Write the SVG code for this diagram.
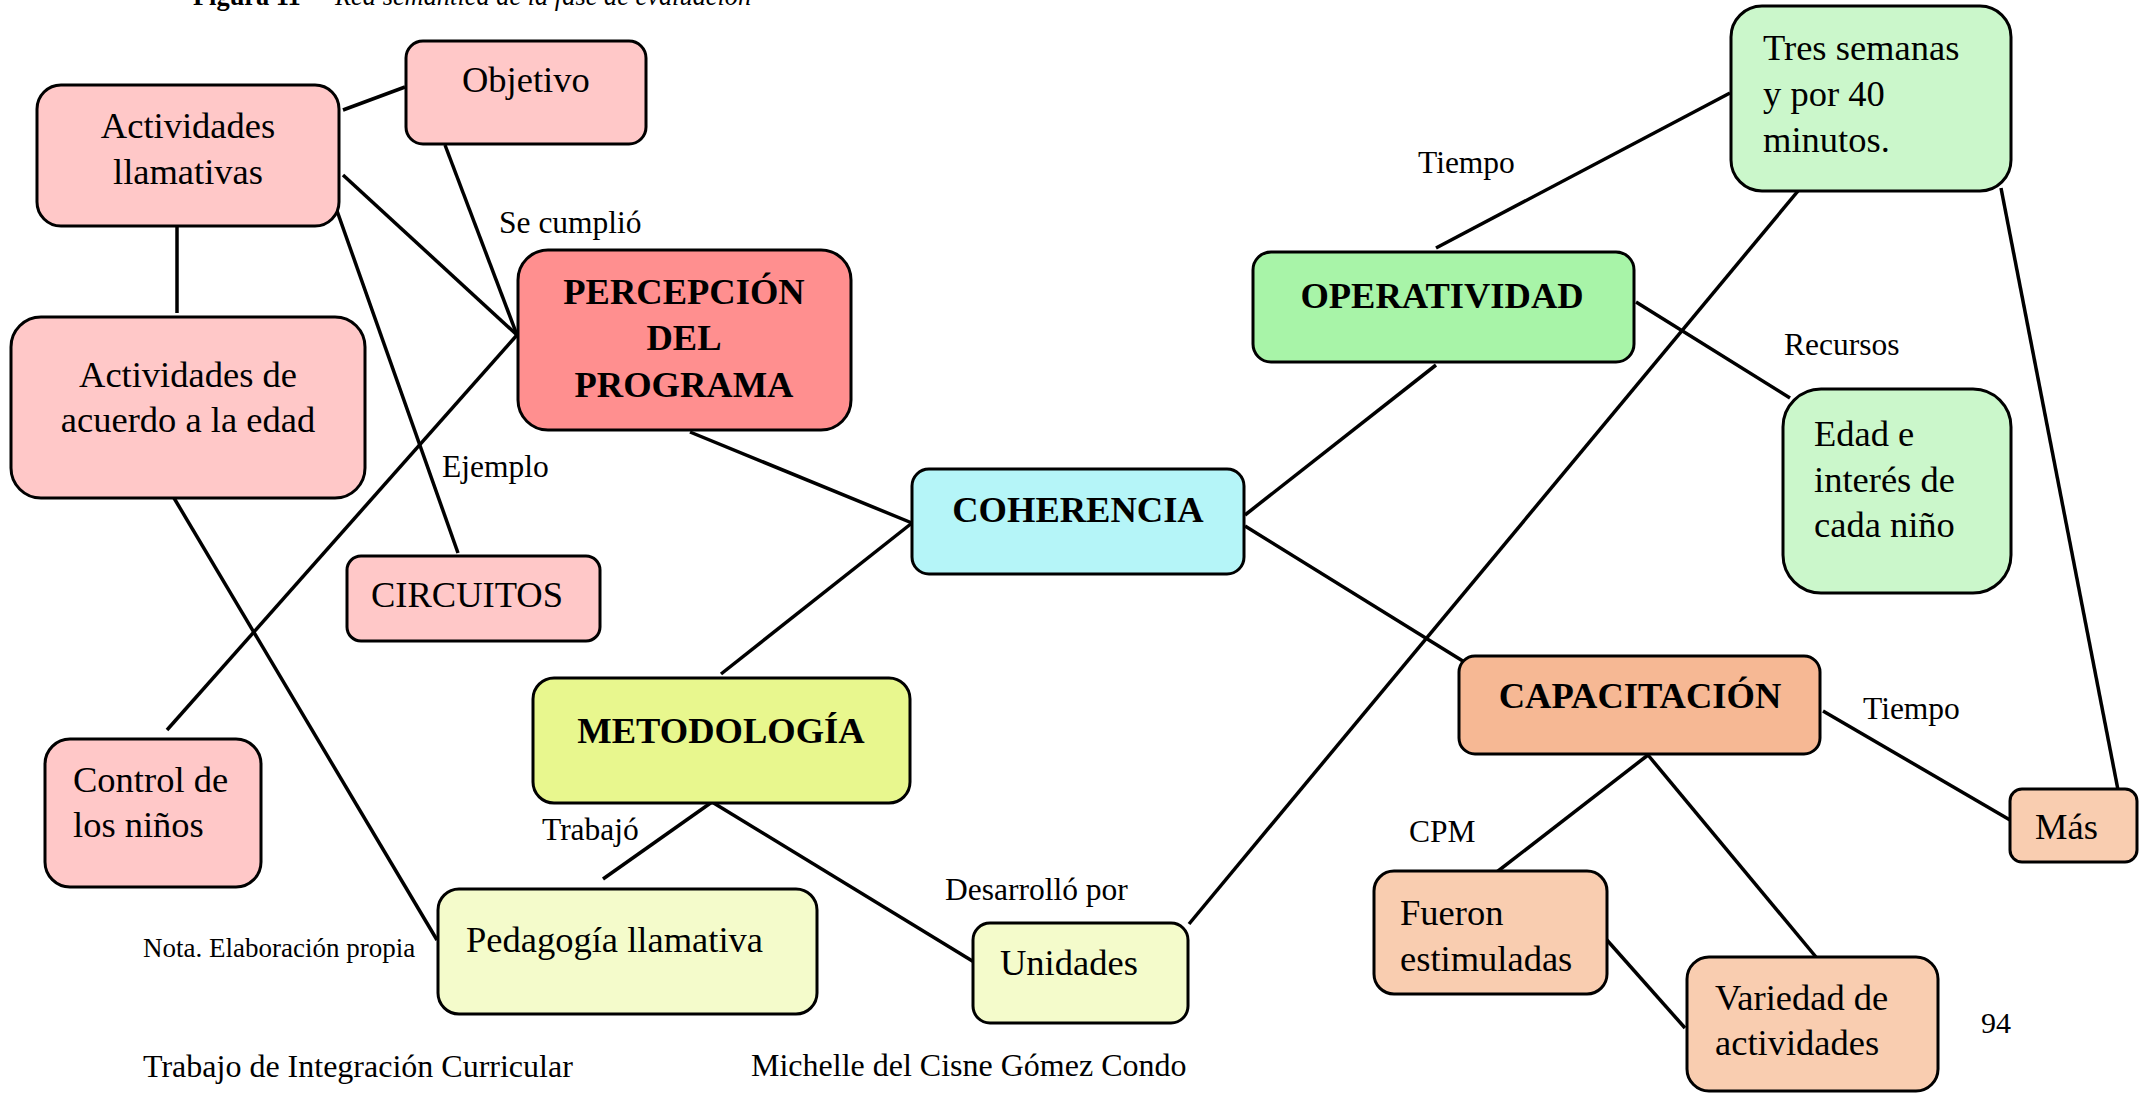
<svg xmlns="http://www.w3.org/2000/svg" width="2149" height="1093" viewBox="0 0 2149 1093">
<style>
  text { font-family: "Liberation Serif", "Times New Roman", serif; fill: #000; }
  .n { font-size: 36.5px; }
  .b { font-size: 36.5px; font-weight: bold; }
  .l { font-size: 31.5px; }
  .box { stroke: #000; stroke-width: 3; }
  .pk { fill: #FFC8C8; }
  .rd { fill: #FF8F8F; }
  .cy { fill: #B5F5F8; }
  .gr { fill: #A8F4A8; }
  .lg { fill: #CBF7CB; }
  .ye { fill: #E8F78E; }
  .ly { fill: #F4FBCB; }
  .or { fill: #F6B894; }
  .lo { fill: #F9CDB0; }
  #connectors line { stroke: #000; stroke-width: 3.5; stroke-linecap: butt; }
</style>
<rect width="2149" height="1093" fill="#fff"/>

<g id="caption">
  <text x="193" y="5" style="font-size:26.4px;font-weight:bold">Figura 11</text>
  <text x="335" y="5" style="font-size:26.4px;font-style:italic">Red semántica de la fase de evaluación</text>
</g>

<g id="connectors">
  <line x1="343" y1="110" x2="405" y2="87"/>
  <line x1="343" y1="175" x2="517" y2="335"/>
  <line x1="445" y1="145" x2="517" y2="335"/>
  <line x1="177" y1="226" x2="177" y2="313"/>
  <line x1="336" y1="208" x2="458" y2="553"/>
  <line x1="517" y1="335" x2="167" y2="730"/>
  <line x1="174" y1="498" x2="437" y2="940"/>
  <line x1="690" y1="432" x2="912" y2="523"/>
  <line x1="912" y1="523" x2="721" y2="674"/>
  <line x1="712" y1="802" x2="603" y2="879"/>
  <line x1="712" y1="802" x2="974" y2="962"/>
  <line x1="1189" y1="924" x2="1803" y2="185"/>
  <line x1="1245" y1="515" x2="1436" y2="365"/>
  <line x1="1436" y1="248" x2="1730" y2="93"/>
  <line x1="1636" y1="302" x2="1790" y2="398"/>
  <line x1="1245" y1="526" x2="1466" y2="663"/>
  <line x1="2001" y1="188" x2="2119" y2="795"/>
  <line x1="1823" y1="711" x2="2010" y2="820"/>
  <line x1="1648" y1="755" x2="1489" y2="878"/>
  <line x1="1648" y1="755" x2="1816" y2="957"/>
  <line x1="1606" y1="939" x2="1685" y2="1028"/>
</g>

<g id="labels">
  <text class="l" x="499" y="233">Se cumplió</text>
  <text class="l" x="442" y="477">Ejemplo</text>
  <text class="l" x="542" y="840">Trabajó</text>
  <text class="l" x="945" y="900">Desarrolló por</text>
  <text class="l" x="1418" y="173">Tiempo</text>
  <text class="l" x="1784" y="355">Recursos</text>
  <text class="l" x="1863" y="719">Tiempo</text>
  <text class="l" x="1409" y="842">CPM</text>
</g>

<g id="act-llamativas">
  <rect class="box pk" x="37" y="85" width="302" height="141" rx="24"/>
  <text class="n" x="188" y="138" text-anchor="middle">Actividades</text>
  <text class="n" x="188" y="184" text-anchor="middle">llamativas</text>
</g>
<g id="objetivo">
  <rect class="box pk" x="406" y="41" width="240" height="103" rx="17"/>
  <text class="n" x="462" y="92">Objetivo</text>
</g>
<g id="act-edad">
  <rect class="box pk" x="11" y="317" width="354" height="181" rx="30"/>
  <text class="n" x="188" y="387" text-anchor="middle">Actividades de</text>
  <text class="n" x="188" y="432" text-anchor="middle">acuerdo a la edad</text>
</g>
<g id="percepcion">
  <rect class="box rd" x="518" y="250" width="333" height="180" rx="30"/>
  <text class="b" x="684" y="304" text-anchor="middle">PERCEPCIÓN</text>
  <text class="b" x="684" y="350" text-anchor="middle">DEL</text>
  <text class="b" x="684" y="397" text-anchor="middle">PROGRAMA</text>
</g>
<g id="circuitos">
  <rect class="box pk" x="347" y="556" width="253" height="85" rx="14"/>
  <text class="n" x="371" y="607">CIRCUITOS</text>
</g>
<g id="control">
  <rect class="box pk" x="45" y="739" width="216" height="148" rx="25"/>
  <text class="n" x="73" y="792">Control de</text>
  <text class="n" x="73" y="837">los niños</text>
</g>
<g id="coherencia">
  <rect class="box cy" x="912" y="469" width="332" height="105" rx="17"/>
  <text class="b" x="1078" y="522" text-anchor="middle">COHERENCIA</text>
</g>
<g id="metodologia">
  <rect class="box ye" x="533" y="678" width="377" height="125" rx="21"/>
  <text class="b" x="721" y="743" text-anchor="middle">METODOLOGÍA</text>
</g>
<g id="pedagogia">
  <rect class="box ly" x="438" y="889" width="379" height="125" rx="21"/>
  <text class="n" x="466" y="952">Pedagogía llamativa</text>
</g>
<g id="unidades">
  <rect class="box ly" x="973" y="923" width="215" height="100" rx="17"/>
  <text class="n" x="1000" y="975">Unidades</text>
</g>
<g id="operatividad">
  <rect class="box gr" x="1253" y="252" width="381" height="110" rx="18"/>
  <text class="b" x="1442" y="308" text-anchor="middle">OPERATIVIDAD</text>
</g>
<g id="tres-semanas">
  <rect class="box lg" x="1731" y="6" width="280" height="185" rx="31"/>
  <text class="n" x="1763" y="60">Tres semanas</text>
  <text class="n" x="1763" y="106">y por 40</text>
  <text class="n" x="1763" y="152">minutos.</text>
</g>
<g id="edad">
  <rect class="box lg" x="1783" y="389" width="228" height="204" rx="38"/>
  <text class="n" x="1814" y="446">Edad e</text>
  <text class="n" x="1814" y="492">interés de</text>
  <text class="n" x="1814" y="537">cada niño</text>
</g>
<g id="capacitacion">
  <rect class="box or" x="1459" y="656" width="361" height="98" rx="16"/>
  <text class="b" x="1640" y="708" text-anchor="middle">CAPACITACIÓN</text>
</g>
<g id="mas">
  <rect class="box lo" x="2010" y="789" width="127" height="73" rx="12"/>
  <text class="n" x="2035" y="839">Más</text>
</g>
<g id="fueron">
  <rect class="box lo" x="1374" y="871" width="233" height="123" rx="20"/>
  <text class="n" x="1400" y="925">Fueron</text>
  <text class="n" x="1400" y="971">estimuladas</text>
</g>
<g id="variedad">
  <rect class="box lo" x="1687" y="957" width="251" height="134" rx="22"/>
  <text class="n" x="1715" y="1010">Variedad de</text>
  <text class="n" x="1715" y="1055">actividades</text>
</g>

<g id="page-text">
  <text x="143" y="957" style="font-size:27px">Nota. Elaboración propia</text>
  <text x="143" y="1077" style="font-size:32px">Trabajo de Integración Curricular</text>
  <text x="751" y="1076" style="font-size:32px">Michelle del Cisne Gómez Condo</text>
  <text x="1981" y="1033" style="font-size:30px">94</text>
</g>
</svg>
